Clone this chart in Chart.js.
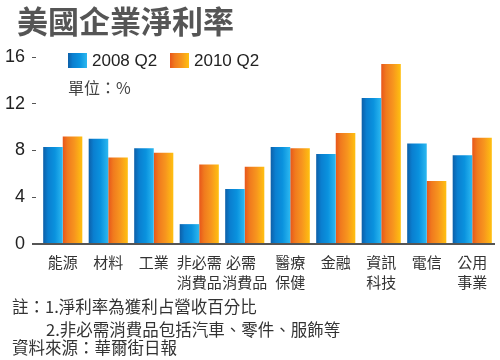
<!DOCTYPE html>
<html>
<head>
<meta charset="utf-8">
<script src="https://cdn.jsdelivr.net/npm/chart.js@4/dist/chart.umd.min.js"></script>
<style>
  html, body { margin: 0; padding: 0; background: #fff; }
  #wrap { position: relative; width: 500px; height: 360px; overflow: hidden; font-family: "Noto Sans CJK TC", "Liberation Sans", sans-serif; }
  #c { position: absolute; left: 0; top: 0; }
  .t { position: absolute; white-space: nowrap; }
  #title { left: 17px; top: 4px; font-size: 31px; line-height: 31px; font-weight: bold; color: #555; }
  .sw { position: absolute; width: 19px; height: 15px; top: 53px; }
  #sw1 { left: 68px; background: linear-gradient(to right, #0d5fa8 0%, #0a7fd0 25%, #0a92de 60%, #2cb8f0 100%); }
  #sw2 { left: 170px; background: linear-gradient(to right, #e8561a 0%, #f07a1e 25%, #f7951e 60%, #ffc010 100%); }
  .lg { top: 51px; font-family: "Liberation Sans", Arial, sans-serif; font-size: 17px; line-height: 20px; color: #222; }
  #unit { left: 68px; top: 79px; font-size: 16px; line-height: 16px; color: #444; }
  .fn { font-size: 16.5px; line-height: 17px; color: #333; }
</style>
</head>
<body>
<div id="wrap">
  <canvas id="c" width="500" height="360"></canvas>
  <div id="title" class="t">美國企業淨利率</div>
  <div id="sw1" class="sw"></div><div class="t lg" style="left:92px">2008 Q2</div>
  <div id="sw2" class="sw"></div><div class="t lg" style="left:194px">2010 Q2</div>
  <div id="unit" class="t">單位：%</div>
  <div class="t fn" style="left:12px; top:298px">註：1.淨利率為獲利占營收百分比</div>
  <div class="t fn" style="left:46px; top:321px">2.非必需消費品包括汽車、零件、服飾等</div>
  <div class="t fn" style="left:12px; top:339px">資料來源：華爾街日報</div>
</div>
<script>
const categories = [['能源'], ['材料'], ['工業'], ['非必需', '消費品'], ['必需\u2002', '消費品'], ['醫療', '保健'], ['金融'], ['資訊', '科技'], ['電信'], ['公用', '事業']];
const series2008 = [8.3, 9.0, 8.2, 1.7, 4.7, 8.3, 7.7, 12.5, 8.6, 7.6];
const series2010 = [9.2, 7.4, 7.8, 6.8, 6.6, 8.2, 9.5, 15.4, 5.4, 9.1];
const seriesNames = ['2008 Q2', '2010 Q2'];
const yTicks = [0, 4, 8, 12, 16];

const CAT_PCT = 0.86;
const blueStops = [[0, '#0d5fa8'], [0.25, '#0a7fd0'], [0.6, '#0a92de'], [1, '#2cb8f0']];
const orangeStops = [[0, '#e8561a'], [0.25, '#f07a1e'], [0.6, '#f7951e'], [1, '#ffc010']];

function barGradient(stops, dsIndex) {
  return function (ctx) {
    const chart = ctx.chart;
    const area = chart.chartArea;
    const xs = chart.scales.x;
    if (!area || !xs || ctx.dataIndex === undefined) return stops[1][1];
    const center = xs.getPixelForValue(ctx.dataIndex);
    const catW = (area.right - area.left) / categories.length;
    const barW = catW * CAT_PCT / 2;
    const left = dsIndex === 0 ? center - barW : center;
    const g = chart.ctx.createLinearGradient(left, 0, left + barW, 0);
    stops.forEach(s => g.addColorStop(s[0], s[1]));
    return g;
  };
}

const axisLine = {
  id: 'axisLine',
  afterDatasetsDraw(chart) {
    const { ctx, chartArea } = chart;
    const y = chart.scales.y.getPixelForValue(0);
    ctx.save();
    ctx.strokeStyle = '#555';
    ctx.lineWidth = 2;
    ctx.beginPath();
    ctx.moveTo(chartArea.left - 8, y);
    ctx.lineTo(chartArea.right, y);
    ctx.stroke();
    ctx.restore();
  }
};

new Chart(document.getElementById('c'), {
  type: 'bar',
  data: {
    labels: categories,
    datasets: [
      { label: seriesNames[0], data: series2008, backgroundColor: barGradient(blueStops, 0) },
      { label: seriesNames[1], data: series2010, backgroundColor: barGradient(orangeStops, 1) }
    ]
  },
  options: {
    responsive: false,
    animation: false,
    events: [],
    layout: { padding: { left: 5, right: 5, top: 57, bottom: 0 } },
    datasets: { bar: { barPercentage: 1, categoryPercentage: CAT_PCT, borderWidth: 0 } },
    plugins: { legend: { display: false }, tooltip: { enabled: false }, title: { display: false } },
    scales: {
      x: {
        grid: { display: false, drawTicks: false },
        border: { display: false },
        ticks: {
          color: '#333',
          padding: 8,
          maxRotation: 0,
          autoSkip: false,
          font: { family: '"Noto Sans CJK TC", sans-serif', size: 15, lineHeight: 1.35 }
        },
        afterFit(scale) { scale.height = 116; }
      },
      y: {
        min: 0,
        max: 16,
        afterBuildTicks(scale) { scale.ticks = yTicks.map(v => ({ value: v })); },
        grid: {
          drawOnChartArea: false,
          drawTicks: true,
          tickLength: 8,
          tickColor: '#555',
          tickWidth: 1,
          tickBorderDash: [4, 4]
        },
        border: { display: false },
        ticks: {
          color: '#222',
          padding: 7,
          font: { family: '"Liberation Sans", Arial, sans-serif', size: 18 }
        },
        afterFit(scale) { scale.width = 35; }
      }
    }
  },
  plugins: [axisLine]
});
</script>
</body>
</html>
